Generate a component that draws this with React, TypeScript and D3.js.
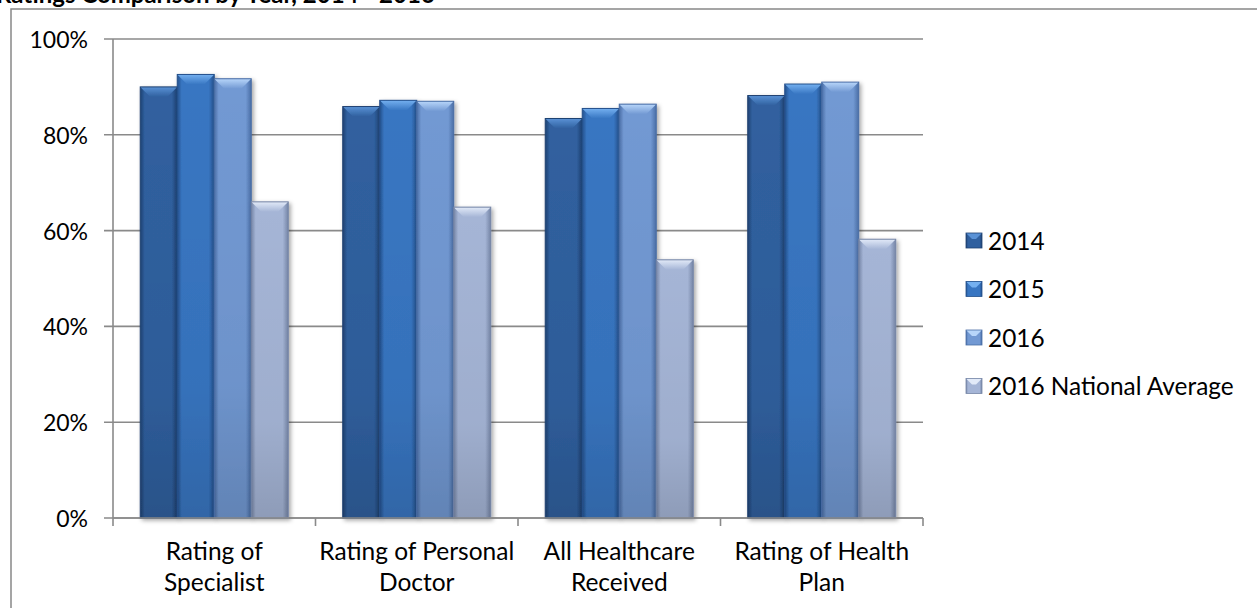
import React from "react";
import * as d3 from "d3";

const categories = [
  ["Rating of", "Specialist"],
  ["Rating of Personal", "Doctor"],
  ["All Healthcare", "Received"],
  ["Rating of Health", "Plan"],
];
const seriesNames = ["2014", "2015", "2016", "2016 National Average"];
const v2014 = [0.90, 0.859, 0.834, 0.882];
const v2015 = [0.926, 0.872, 0.855, 0.906];
const v2016 = [0.917, 0.87, 0.864, 0.91];
const vNational = [0.66, 0.649, 0.539, 0.582];
const yTicks = [0, 0.2, 0.4, 0.6, 0.8, 1.0];
const titleText = "Ratings Comparison by Year, 2014 - 2016";

const seriesValues = [v2014, v2015, v2016, vNational];
const palette = [
  { base: "#30609f", light: "#5a92d6", dark: "#1f4272", bottom: "#2a5390" },
  { base: "#3876c2", light: "#74b0f0", dark: "#24508c", bottom: "#3265a8" },
  { base: "#7299d3", light: "#b8d6fa", dark: "#4a6ea6", bottom: "#6483b8" },
  { base: "#a5b5d6", light: "#e2eaf8", dark: "#7585a6", bottom: "#8c9bb9" },
];

const FONT = "Lato, 'Open Sans', sans-serif";

export default function App() {
  const catKeys = categories.map((c) => c.join(" "));
  const x0 = d3.scaleBand<string>().domain(catKeys).range([113, 923]).paddingInner(0).paddingOuter(0);
  const x1 = d3
    .scaleBand<string>()
    .domain(seriesNames)
    .range([0, x0.bandwidth()])
    .paddingInner(0)
    .paddingOuter(0.736);
  const y = d3.scaleLinear().domain([0, 1]).range([518, 39]);
  const fmt = d3.format(".0%");
  const bw = x1.bandwidth();
  const bev = 10;

  const bars: React.ReactNode[] = [];
  catKeys.forEach((ck, ci) => {
    seriesNames.forEach((s, si) => {
      const v = seriesValues[si][ci];
      const bx = (x0(ck) as number) + (x1(s) as number);
      const top = y(v);
      const h = y(0) - top;
      const p = palette[si];
      bars.push(
        <g key={`${ci}-${si}`} filter="url(#shadow)">
          <rect x={bx} y={top} width={bw} height={h} fill={`url(#side${si})`} />
          <rect x={bx} y={top} width={bw} height={h} fill="url(#vshade)" />
          <polygon
            points={`${bx},${top} ${bx + bw},${top} ${bx + bw - bev},${top + bev} ${bx + bev},${top + bev}`}
            fill={`url(#bevel${si})`}
          />
          <rect x={bx} y={top} width={bw} height={h} fill="none" stroke={p.dark} strokeWidth={1} />
        </g>
      );
    });
  });

  return (
    <svg
      width={1257}
      height={608}
      style={{ position: "absolute", left: 0, top: 0, background: "#fff" }}
    >
      <defs>
        <filter id="shadow" x="-20%" y="-5%" width="150%" height="115%">
          <feDropShadow dx="2" dy="2" stdDeviation="2" floodColor="#000" floodOpacity="0.35" />
        </filter>
        <linearGradient id="vshade" x1="0" y1="0" x2="0" y2="1">
          <stop offset="0" stopColor="#000" stopOpacity="0" />
          <stop offset="0.7" stopColor="#000" stopOpacity="0.04" />
          <stop offset="1" stopColor="#000" stopOpacity="0.14" />
        </linearGradient>
        {palette.map((p, i) => (
          <React.Fragment key={i}>
            <linearGradient id={`side${i}`} x1="0" y1="0" x2="1" y2="0">
              <stop offset="0" stopColor={p.dark} />
              <stop offset="0.12" stopColor={p.base} />
              <stop offset="0.85" stopColor={p.base} />
              <stop offset="1" stopColor={p.dark} />
            </linearGradient>
            <linearGradient id={`bevel${i}`} x1="0" y1="0" x2="0" y2="1">
              <stop offset="0" stopColor={p.light} />
              <stop offset="1" stopColor={p.base} />
            </linearGradient>
          </React.Fragment>
        ))}
      </defs>

      <text x={-4} y={3} fontFamily={FONT} fontWeight="bold" fontSize={24} fill="#000">
        {titleText}
      </text>

      <rect x={11} y={9} width={1300} height={700} fill="#fff" stroke="#888" strokeWidth={1.5} />

      {yTicks.map((t) => (
        <g key={t}>
          <line x1={104} x2={923} y1={y(t)} y2={y(t)} stroke="#8a8a8a" strokeWidth={1.6} />
          <text
            x={88}
            y={y(t)}
            textAnchor="end"
            dominantBaseline="central"
            fontFamily={FONT}
            fontSize={23}
            fill="#000"
          >
            {fmt(t)}
          </text>
        </g>
      ))}
      <line x1={113} x2={113} y1={y(1)} y2={y(0)} stroke="#8a8a8a" strokeWidth={1.6} />

      {bars}

      <line x1={113} x2={923} y1={y(0)} y2={y(0)} stroke="#8a8a8a" strokeWidth={1.6} />
      {[...catKeys.map((c) => x0(c) as number), 923].map((tx, i) => (
        <line key={i} x1={tx} x2={tx} y1={y(0)} y2={y(0) + 8} stroke="#8a8a8a" strokeWidth={1.6} />
      ))}

      {categories.map((lines, ci) => {
        const cx = (x0(catKeys[ci]) as number) + x0.bandwidth() / 2;
        return (
          <text key={ci} textAnchor="middle" fontFamily={FONT} fontSize={24.5} fill="#000">
            {lines.map((l, li) => (
              <tspan key={li} x={cx} y={560 + li * 31}>
                {l}
              </tspan>
            ))}
          </text>
        );
      })}

      {seriesNames.map((s, i) => {
        const ly = 240 + i * 48.5;
        const p = palette[i];
        return (
          <g key={s}>
            <rect x={966} y={ly - 7} width={16} height={15} fill={`url(#side${i})`} />
            <polygon
              points={`966,${ly - 7} 982,${ly - 7} 976,${ly - 1} 972,${ly - 1}`}
              fill={p.light}
            />
            <rect x={966} y={ly - 7} width={16} height={15} fill="none" stroke={p.dark} strokeWidth={0.8} />
            <text
              x={988}
              y={ly}
              dominantBaseline="central"
              fontFamily={FONT}
              fontSize={24.4}
              fill="#000"
            >
              {s}
            </text>
          </g>
        );
      })}
    </svg>
  );
}
